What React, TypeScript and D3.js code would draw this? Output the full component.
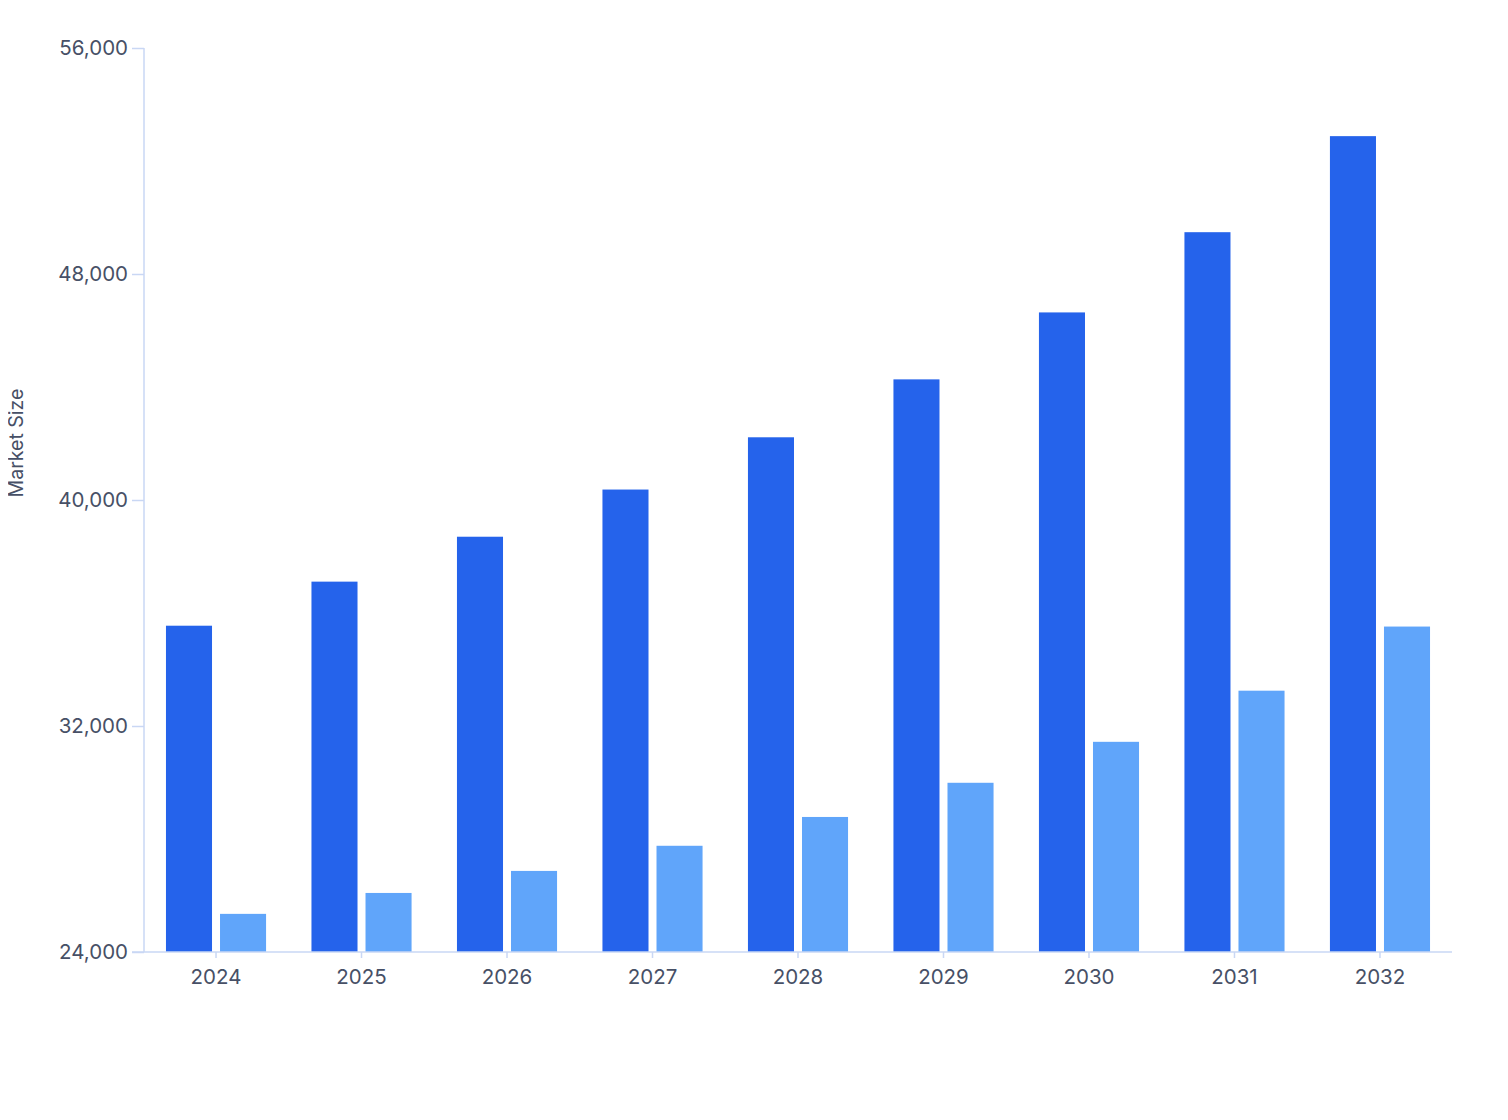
import { useRef, useEffect } from 'react';
import * as d3 from 'd3';

const years = ['2024', '2025', '2026', '2027', '2028', '2029', '2030', '2031', '2032'];
const seriesA = [35550, 37110, 38700, 40370, 42220, 44270, 46640, 49480, 52880];
const seriesB = [25350, 26090, 26870, 27760, 28780, 29990, 31440, 33250, 35520];
const yTicks = [24000, 32000, 40000, 48000, 56000];

const WIDTH = 1508;
const HEIGHT = 1120;
const AXIS_COLOR = '#c9d7f4';
const TEXT_COLOR = '#475066';
const COLORS = ['#2563eb', '#60a5fa'];

export default function App() {
  const svgRef = useRef<SVGSVGElement>(null);

  useEffect(() => {
    if (!svgRef.current) return;
    const margin = { top: 48, right: 56, bottom: 168, left: 144 };
    const innerWidth = WIDTH - margin.left - margin.right;
    const innerHeight = HEIGHT - margin.top - margin.bottom;

    const svg = d3.select(svgRef.current);
    svg.selectAll('*').remove();

    const g = svg.append('g').attr('transform', `translate(${margin.left},${margin.top})`);

    const x0 = d3.scaleBand<string>().domain(years).range([0, innerWidth]).paddingInner(0.312).paddingOuter(0.151);
    const x1 = d3.scaleBand<string>().domain(['a', 'b']).range([0, x0.bandwidth()]).paddingInner(0.148);
    const y = d3.scaleLinear().domain([24000, 56000]).range([innerHeight, 0]);

    // Bars
    const groups = g
      .selectAll('.group')
      .data(years)
      .enter()
      .append('g')
      .attr('transform', (d) => `translate(${x0(d)},0)`);

    groups
      .append('rect')
      .attr('x', x1('a') || 0)
      .attr('y', (_, i) => y(seriesA[i]))
      .attr('width', x1.bandwidth())
      .attr('height', (_, i) => innerHeight - y(seriesA[i]))
      .attr('fill', COLORS[0]);

    groups
      .append('rect')
      .attr('x', x1('b') || 0)
      .attr('y', (_, i) => y(seriesB[i]))
      .attr('width', x1.bandwidth())
      .attr('height', (_, i) => innerHeight - y(seriesB[i]))
      .attr('fill', COLORS[1]);

    // Y axis
    g.append('g')
      .call(d3.axisLeft(y).tickValues(yTicks).tickSize(12).tickPadding(4).tickFormat((d) => d3.format(',')(d as number)))
      .call((a) => a.select('.domain').attr('stroke', AXIS_COLOR).attr('stroke-width', 1.5).attr('d', `M0,0V${innerHeight}`))
      .call((a) => a.selectAll('.tick line').attr('stroke', AXIS_COLOR).attr('stroke-width', 1.5))
      .call((a) =>
        a.selectAll('.tick text').attr('fill', TEXT_COLOR).attr('font-size', '20.5px').attr('font-family', 'Inter, sans-serif')
      );

    // X axis
    g.append('g')
      .attr('transform', `translate(0,${innerHeight})`)
      .call(d3.axisBottom(x0).tickSize(6).tickPadding(11))
      .call((a) => a.select('.domain').attr('stroke', AXIS_COLOR).attr('stroke-width', 1.5).attr('d', `M-12,0H${innerWidth}`))
      .call((a) => a.selectAll('.tick line').attr('stroke', AXIS_COLOR).attr('stroke-width', 1.5))
      .call((a) =>
        a.selectAll('.tick text').attr('fill', TEXT_COLOR).attr('font-size', '20.5px').attr('font-family', 'Inter, sans-serif')
      );

    // Y axis title
    svg
      .append('text')
      .attr('transform', `translate(23,${443}) rotate(-90)`)
      .attr('text-anchor', 'middle')
      .attr('fill', TEXT_COLOR)
      .attr('font-size', '19.5px')
      .attr('font-family', 'Inter, sans-serif')
      .text('Market Size');
  }, []);

  return (
    <div style={{ margin: -8 }}>
      <svg ref={svgRef} width={WIDTH} height={HEIGHT} style={{ display: 'block', background: '#fff' }} />
    </div>
  );
}
